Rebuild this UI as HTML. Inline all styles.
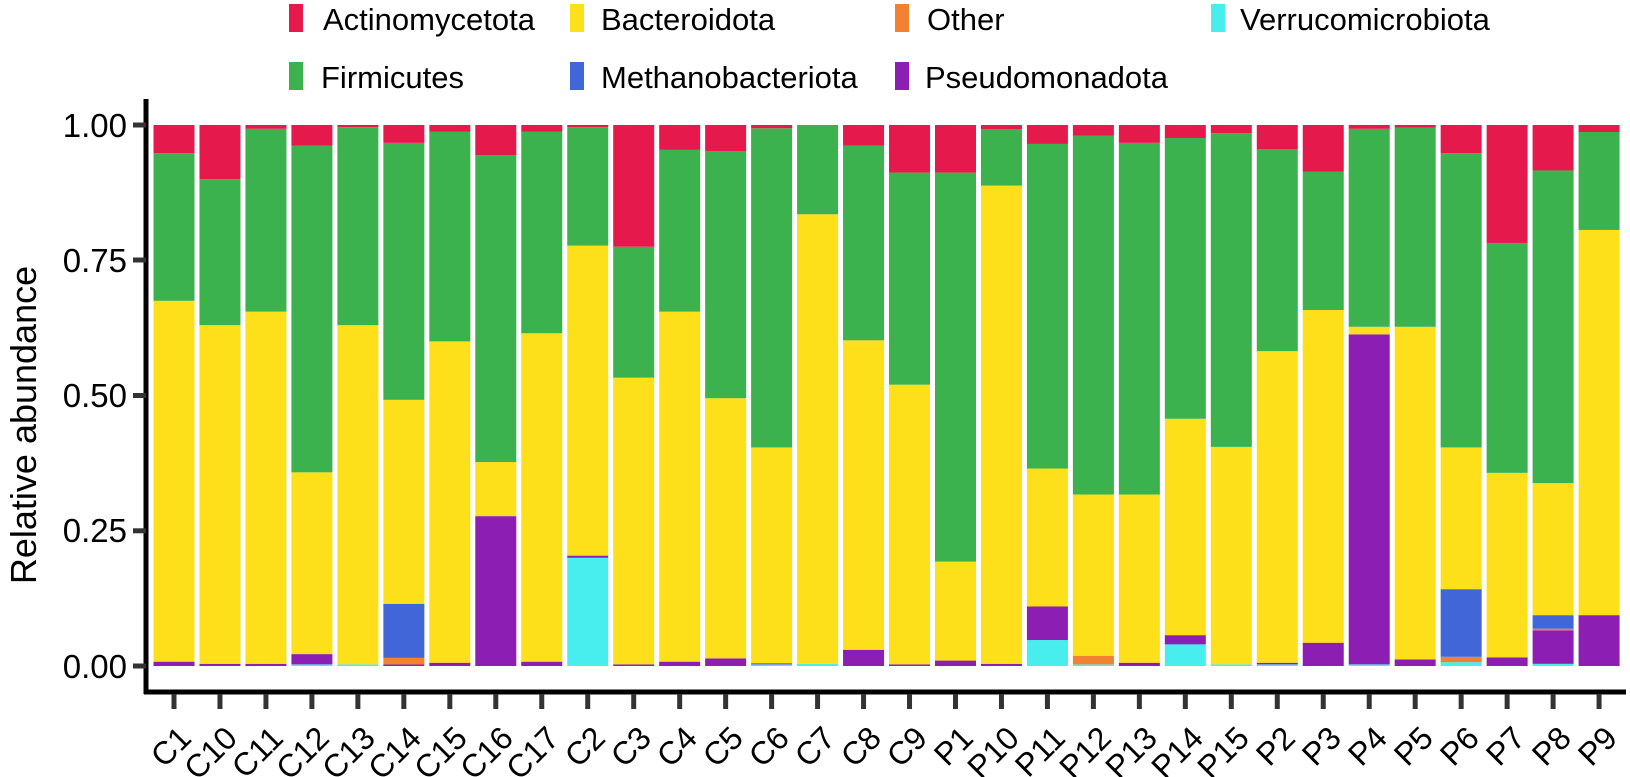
<!DOCTYPE html>
<html><head><meta charset="utf-8"><style>
html,body{margin:0;padding:0;background:#fff;}
svg{display:block;font-family:"Liberation Sans",Arial,sans-serif;}
</style></head><body>
<svg id="s" width="1630" height="777" viewBox="0 0 1630 777" xmlns="http://www.w3.org/2000/svg">
<g id="bars"></g>
<line x1="146" y1="99" x2="146" y2="694" stroke="#000" stroke-width="5"/>
<line x1="144" y1="692" x2="1626" y2="692" stroke="#000" stroke-width="5"/>
<g stroke="#333" stroke-width="5">
<line x1="133" y1="125" x2="146" y2="125"/>
<line x1="133" y1="260" x2="146" y2="260"/>
<line x1="133" y1="395.5" x2="146" y2="395.5"/>
<line x1="133" y1="530.8" x2="146" y2="530.8"/>
<line x1="133" y1="666" x2="146" y2="666"/>
</g>
<g font-size="33" fill="#000" text-anchor="end">
<text x="127" y="137">1.00</text>
<text x="127" y="272">0.75</text>
<text x="127" y="407">0.50</text>
<text x="127" y="542">0.25</text>
<text x="127" y="678">0.00</text>
</g>
<text transform="translate(36,425) rotate(-90)" font-size="36" text-anchor="middle">Relative abundance</text>
<g id="ticks" stroke="#333" stroke-width="5"></g>
<g font-size="32" text-anchor="end" id="xl">
<text transform="translate(193,740) rotate(-45)">C1</text>
<text transform="translate(239,740) rotate(-45)">C10</text>
<text transform="translate(285,740) rotate(-45)">C11</text>
<text transform="translate(331,740) rotate(-45)">C12</text>
<text transform="translate(377,740) rotate(-45)">C13</text>
<text transform="translate(423,740) rotate(-45)">C14</text>
<text transform="translate(469,740) rotate(-45)">C15</text>
<text transform="translate(515,740) rotate(-45)">C16</text>
<text transform="translate(561,740) rotate(-45)">C17</text>
<text transform="translate(607,740) rotate(-45)">C2</text>
<text transform="translate(653,740) rotate(-45)">C3</text>
<text transform="translate(699,740) rotate(-45)">C4</text>
<text transform="translate(745,740) rotate(-45)">C5</text>
<text transform="translate(791,740) rotate(-45)">C6</text>
<text transform="translate(837,740) rotate(-45)">C7</text>
<text transform="translate(883,740) rotate(-45)">C8</text>
<text transform="translate(929,740) rotate(-45)">C9</text>
<text transform="translate(975,740) rotate(-45)">P1</text>
<text transform="translate(1021,740) rotate(-45)">P10</text>
<text transform="translate(1067,740) rotate(-45)">P11</text>
<text transform="translate(1113,740) rotate(-45)">P12</text>
<text transform="translate(1159,740) rotate(-45)">P13</text>
<text transform="translate(1205,740) rotate(-45)">P14</text>
<text transform="translate(1251,740) rotate(-45)">P15</text>
<text transform="translate(1297,740) rotate(-45)">P2</text>
<text transform="translate(1343,740) rotate(-45)">P3</text>
<text transform="translate(1389,740) rotate(-45)">P4</text>
<text transform="translate(1435,740) rotate(-45)">P5</text>
<text transform="translate(1481,740) rotate(-45)">P6</text>
<text transform="translate(1527,740) rotate(-45)">P7</text>
<text transform="translate(1573,740) rotate(-45)">P8</text>
<text transform="translate(1619,740) rotate(-45)">P9</text>
</g>
<g font-size="31" fill="#000">
<rect x="289" y="4" width="14" height="28" fill="#E5194B"/><text x="323" y="30">Actinomycetota</text>
<rect x="570" y="4" width="14" height="28" fill="#FDE01A"/><text x="601" y="30">Bacteroidota</text>
<rect x="895" y="4" width="14" height="28" fill="#F28232"/><text x="927" y="30">Other</text>
<rect x="1211" y="4" width="14" height="28" fill="#48EDEE"/><text x="1240" y="30">Verrucomicrobiota</text>
<rect x="289" y="62" width="14" height="28" fill="#3BB24D"/><text x="321" y="88">Firmicutes</text>
<rect x="570" y="62" width="14" height="28" fill="#4166D8"/><text x="601" y="88">Methanobacteriota</text>
<rect x="895" y="62" width="14" height="28" fill="#8D1EB3"/><text x="925" y="88">Pseudomonadota</text>
</g>
</svg>
<script>
var C={r:"#E5194B",y:"#FDE01A",o:"#F28232",c:"#48EDEE",g:"#3BB24D",b:"#4166D8",p:"#8D1EB3"};
var D=[
[["p",.008],["y",.675],["g",.948],["r",1]],
[["p",.004],["y",.63],["g",.90],["r",1]],
[["p",.004],["y",.655],["g",.993],["r",1]],
[["c",.003],["p",.022],["y",.358],["g",.962],["r",1]],
[["c",.003],["y",.63],["g",.996],["r",1]],
[["p",.003],["o",.015],["b",.115],["y",.492],["g",.967],["r",1]],
[["p",.006],["y",.60],["g",.988],["r",1]],
[["p",.277],["y",.377],["g",.944],["r",1]],
[["p",.008],["y",.615],["g",.988],["r",1]],
[["c",.20],["p",.204],["y",.777],["g",.996],["r",1]],
[["p",.003],["y",.533],["g",.775],["r",1]],
[["p",.008],["y",.655],["g",.954],["r",1]],
[["p",.014],["y",.495],["g",.952],["r",1]],
[["c",.003],["p",.005],["y",.404],["g",.994],["r",1]],
[["c",.004],["y",.835],["g",1]],
[["p",.03],["y",.602],["g",.962],["r",1]],
[["p",.003],["y",.52],["g",.912],["r",1]],
[["p",.01],["y",.193],["g",.912],["r",1]],
[["p",.004],["y",.888],["g",.992],["r",1]],
[["c",.048],["p",.11],["y",.365],["g",.965],["r",1]],
[["c",.003],["o",.019],["y",.317],["g",.98],["r",1]],
[["p",.006],["y",.317],["g",.967],["r",1]],
[["c",.04],["p",.057],["y",.457],["g",.976],["r",1]],
[["c",.003],["y",.405],["g",.985],["r",1]],
[["c",.003],["p",.006],["y",.582],["g",.955],["r",1]],
[["p",.043],["y",.658],["g",.914],["r",1]],
[["c",.003],["p",.613],["y",.627],["g",.993],["r",1]],
[["p",.012],["y",.627],["g",.995],["r",1]],
[["c",.007],["o",.017],["b",.142],["y",.404],["g",.948],["r",1]],
[["p",.016],["y",.357],["g",.782],["r",1]],
[["c",.004],["p",.066],["o",.069],["b",.094],["y",.338],["g",.916],["r",1]],
[["p",.094],["y",.806],["g",.987],["r",1]]
];
var ns="http://www.w3.org/2000/svg",g=document.getElementById("bars"),t=document.getElementById("ticks");
function Y(v){return 666-v*541;}
D.forEach(function(b,i){
 var cx=174+i*45.97,prev=0;
 b.forEach(function(s){
  var r=document.createElementNS(ns,"rect");
  r.setAttribute("x",cx-20.5);r.setAttribute("width",41);
  r.setAttribute("y",Y(s[1]));r.setAttribute("height",Y(prev)-Y(s[1]));
  r.setAttribute("fill",C[s[0]]);g.appendChild(r);prev=s[1];
 });
 var l=document.createElementNS(ns,"line");
 l.setAttribute("x1",cx);l.setAttribute("x2",cx);l.setAttribute("y1",694);l.setAttribute("y2",709);
 t.appendChild(l);
});
</script>
</body></html>
